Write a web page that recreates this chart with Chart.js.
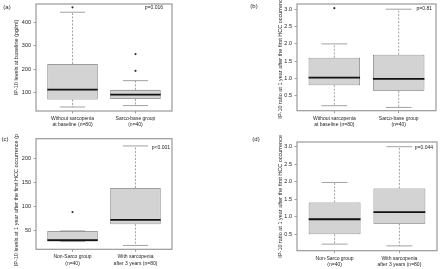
<!DOCTYPE html>
<html><head><meta charset="utf-8">
<script src="https://cdn.jsdelivr.net/npm/chart.js@4/dist/chart.umd.min.js"></script>
<style>
html,body{margin:0;padding:0;background:#fff;}
#wrap{position:relative;width:440px;height:269px;overflow:hidden;background:#fff;}
canvas{position:absolute;}
</style></head><body>
<div id="wrap">
<canvas id="ca" width="220" height="134" style="left:0;top:0"></canvas>
<canvas id="cb" width="220" height="134" style="left:220px;top:0"></canvas>
<canvas id="cc" width="220" height="135" style="left:0;top:134px"></canvas>
<canvas id="cd" width="220" height="135" style="left:220px;top:134px"></canvas>
</div>
<script>
// ---- categories ----
const catsA = [["Without sarcopenia","at baseline (n=80)"],["Sarco-base group","(n=40)"]];
const catsB = [["Without sarcopenia","at baseline (n=80)"],["Sarco-base group","(n=40)"]];
const catsC = [["Non-Sarco group","(n=40)"],["With sarcopenia","after 3 years (n=80)"]];
const catsD = [["Non-Sarco group","(n=40)"],["With sarcopenia","after 3 years (n=80)"]];

// ---- box statistics (lower whisker, Q1, median, Q3, upper whisker, outliers) ----
const lowA  = [39, 45];
const q1A   = [71, 73];
const medA  = [113, 92];
const q3A   = [222, 112];
const highA = [442, 151];
const outA  = [[463], [264, 193]];

const lowB  = [0.22, 0.17];
const q1B   = [0.81, 0.65];
const medB  = [1.03, 0.99];
const q3B   = [1.60, 1.69];
const highB = [2.00, 3.00];
const outB  = [[3.03], []];

const lowC  = [28, 20];
const q1C   = [28, 64];
const medC  = [31, 73];
const q3C   = [50, 139];
const highC = [50, 226];
const outC  = [[89], []];

const lowD  = [0.22, 0.17];
const q1D   = [0.50, 0.80];
const medD  = [0.93, 1.13];
const q3D   = [1.41, 1.81];
const highD = [1.98, 3.00];
const outD  = [[], []];

// ---- tick labels ----
const ticksA = [100, 200, 300, 400];
const ticksB = [0.5, 1.0, 1.5, 2.0, 2.5, 3.0];
const ticksC = [50, 100, 150, 200];
const ticksD = [0.5, 1.0, 1.5, 2.0, 2.5, 3.0];

// ---- texts ----
const panelLabels = ["(a)", "(b)", "(c)", "(d)"];
const yTitles = [
  "IP-10 levels at baseline (pg/ml)",
  "IP-10 ratio at 1 year after the first HCC occurrence",
  "IP-10 levels at 1 year after the first HCC occurrence (pg/ml)",
  "IP-10 ratio at 1 year after the first HCC occurrence"
];
const pValues = ["p=0.016", "p=0.81", "p<0.001", "p=0.044"];

const FONT = "'Liberation Sans', Arial, Helvetica, sans-serif";
const TXT = '#1e1e1e';

const boxPlugin = {
  id: 'boxExtras',
  afterDatasetsDraw(chart, args, o) {
    const ctx = chart.ctx, x = chart.scales.x, y = chart.scales.y;
    ctx.save();
    for (let i = 0; i < o.med.length; i++) {
      const c = x.getPixelForValue(i + 1);
      const hw = (x.getPixelForValue(i + 1.4) - x.getPixelForValue(i + 0.6)) / 2;
      const cw = hw / 2;
      // whiskers (dashed)
      ctx.strokeStyle = '#8a8a8a';
      ctx.lineWidth = 0.8;
      ctx.setLineDash([2, 1.5]);
      ctx.beginPath();
      if (o.high[i] > o.q3[i]) { ctx.moveTo(c, y.getPixelForValue(o.q3[i])); ctx.lineTo(c, y.getPixelForValue(o.high[i])); }
      if (o.low[i] < o.q1[i]) { ctx.moveTo(c, y.getPixelForValue(o.q1[i])); ctx.lineTo(c, y.getPixelForValue(o.low[i])); }
      ctx.stroke();
      ctx.setLineDash([]);
      // caps
      ctx.beginPath();
      ctx.moveTo(c - cw, y.getPixelForValue(o.high[i])); ctx.lineTo(c + cw, y.getPixelForValue(o.high[i]));
      ctx.moveTo(c - cw, y.getPixelForValue(o.low[i])); ctx.lineTo(c + cw, y.getPixelForValue(o.low[i]));
      ctx.stroke();
      // median
      ctx.strokeStyle = '#111';
      ctx.lineWidth = 1.8;
      ctx.beginPath();
      ctx.moveTo(c - hw, y.getPixelForValue(o.med[i])); ctx.lineTo(c + hw, y.getPixelForValue(o.med[i]));
      ctx.stroke();
    }
    ctx.restore();
  },
  afterDraw(chart, args, o) {
    const ctx = chart.ctx, ca = chart.chartArea;
    ctx.save();
    // plot frame
    ctx.strokeStyle = '#999';
    ctx.lineWidth = 1.2;
    ctx.strokeRect(ca.left, ca.top, ca.right - ca.left, ca.bottom - ca.top);
    ctx.fillStyle = TXT;
    // y title
    ctx.font = '5.5px ' + FONT;
    ctx.textAlign = 'center';
    ctx.textBaseline = 'middle';
    ctx.translate(o.titleX, (ca.top + ca.bottom) / 2);
    ctx.rotate(-Math.PI / 2);
    ctx.fillText(o.title, 0, 0);
    ctx.setTransform(1, 0, 0, 1, 0, 0);
    // panel label
    ctx.font = '6px ' + FONT;
    ctx.textAlign = 'center';
    ctx.fillText(o.label, o.labelX, o.labelY);
    // p value
    ctx.font = '5px ' + FONT;
    ctx.textAlign = 'right';
    ctx.fillText(o.p, o.pX, o.pY);
    ctx.restore();
  }
};

function makePanel(id, cats, low, q1, med, q3, high, out, ticks, yMin, yMax, dec, lay, txt) {
  const boxData = q1.map((v, i) => ({ x: i + 1, y: [v, q3[i]] }));
  const outData = out.flatMap((arr, i) => arr.map(v => ({ x: i + 1, y: v })));
  new Chart(document.getElementById(id), {
    type: 'bar',
    data: {
      datasets: [
        { type: 'bar', data: boxData, backgroundColor: '#d3d3d3', borderColor: '#666',
          borderWidth: 0.8, borderSkipped: false, barPercentage: 0.8, categoryPercentage: 1 },
        { type: 'scatter', data: outData, pointRadius: 1.1, pointBackgroundColor: '#333',
          pointBorderColor: '#333', pointBorderWidth: 0 }
      ]
    },
    options: {
      responsive: false, animation: false, devicePixelRatio: 1, events: [],
      layout: { padding: { left: lay.padL, right: lay.padR, top: lay.padT, bottom: 0 } },
      plugins: {
        legend: { display: false }, tooltip: { enabled: false },
        boxExtras: { low, q1, med, q3, high, title: txt.title, titleX: txt.titleX,
          label: txt.label, labelX: txt.labelX, labelY: txt.labelY, p: txt.p, pX: txt.pX, pY: txt.pY }
      },
      scales: {
        x: {
          type: 'linear', min: 0.42, max: 2.58, offset: false,
          grid: { offset: false, drawOnChartArea: false, drawTicks: true, tickLength: 2.5, color: '#8a8a8a', lineWidth: 0.8 },
          border: { display: false },
          afterBuildTicks: s => { s.ticks = [{ value: 1 }, { value: 2 }]; },
          afterFit: s => { s.height = lay.xH; s.paddingLeft = 0; s.paddingRight = 0; },
          ticks: { autoSkip: false, maxRotation: 0, minRotation: 0, padding: 2, color: TXT,
            font: { family: FONT, size: 5, lineHeight: 1.25 },
            callback: (v, i) => cats[i] }
        },
        y: {
          type: 'linear', min: yMin, max: yMax,
          grid: { drawOnChartArea: false, drawTicks: true, tickLength: 2.5, color: '#8a8a8a', lineWidth: 0.8 },
          border: { display: false },
          afterBuildTicks: s => { s.ticks = ticks.map(v => ({ value: v })); },
          afterFit: s => { s.width = lay.yW; s.paddingTop = 0; s.paddingBottom = 0; },
          ticks: { padding: 2.5, color: TXT, font: { family: FONT, size: 5.5 },
            callback: v => v.toFixed(dec) }
        }
      }
    },
    plugins: [boxPlugin]
  });
}

makePanel('ca', catsA, lowA, q1A, medA, q3A, highA, outA, ticksA, 22, 477, 0,
  { padL: 0, padR: 48, padT: 2.5, yW: 36, xH: 23 },
  { title: yTitles[0], titleX: 16, label: panelLabels[0], labelX: 7, labelY: 7, p: pValues[0], pX: 163, pY: 7.5 });
makePanel('cb', catsB, lowB, q1B, medB, q3B, highB, outB, ticksB, 0.076, 3.15, 1,
  { padL: 57, padR: 3, padT: 2, yW: 20, xH: 23.3 },
  { title: yTitles[1], titleX: 60, label: panelLabels[1], labelX: 34, labelY: 6.5, p: pValues[1], pX: 212, pY: 8.7 });
makePanel('cc', catsC, lowC, q1C, medC, q3C, highC, outC, ticksC, 12, 241, 0,
  { padL: 0, padR: 48, padT: 4.7, yW: 36, xH: 19.7 },
  { title: yTitles[2], titleX: 16, label: panelLabels[2], labelX: 5, labelY: 5.5, p: pValues[2], pX: 170, pY: 14 });
makePanel('cd', catsD, lowD, q1D, medD, q3D, highD, outD, ticksD, 0.032, 3.134, 1,
  { padL: 57, padR: 3, padT: 8, yW: 20, xH: 18.3 },
  { title: yTitles[3], titleX: 60, label: panelLabels[3], labelX: 36, labelY: 5.5, p: pValues[3], pX: 213, pY: 14 });
</script>
</body></html>
